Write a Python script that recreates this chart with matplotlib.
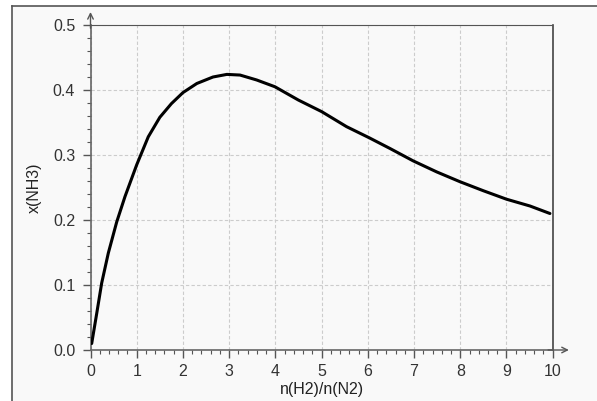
import matplotlib
matplotlib.use("Agg")
import matplotlib.pyplot as plt
from matplotlib.lines import Line2D
from matplotlib.ticker import MultipleLocator

plt.rcParams["font.family"] = ["Liberation Sans", "DejaVu Sans"]

# ratio n(H2)/n(N2) and equilibrium mole fraction of NH3
ratio = [0.026, 0.134, 0.242, 0.385, 0.567, 0.746, 1.0, 1.25, 1.5, 1.75,
         2.0, 2.3, 2.65, 2.95, 3.235, 3.596, 3.99, 4.496, 5.002, 5.54,
         6.03, 6.48, 6.98, 7.49, 7.99, 8.50, 9.00, 9.51, 9.94]
x_nh3 = [0.010, 0.056, 0.103, 0.149, 0.197, 0.236, 0.285, 0.328, 0.358,
         0.379, 0.396, 0.410, 0.420, 0.424, 0.423, 0.4154, 0.405, 0.3846,
         0.3667, 0.3436, 0.3265, 0.310, 0.291, 0.274, 0.259, 0.245, 0.232,
         0.2215, 0.210]

x_ticks = list(range(0, 11))
y_ticks = [0.0, 0.1, 0.2, 0.3, 0.4, 0.5]

fig = plt.figure(figsize=(5.97, 4.01), dpi=100)
fig.patch.set_facecolor("white")
# outer panel with frame on left and top
fig.add_artist(plt.Rectangle((12 / 597, 0), 1, 1 - 6 / 401,
                             transform=fig.transFigure,
                             facecolor="#f9f9f9", edgecolor="none", zorder=-10))
fig.add_artist(Line2D([12 / 597, 12 / 597], [0, 1 - 6 / 401],
                      transform=fig.transFigure, color="#555555", lw=1.2))
fig.add_artist(Line2D([12 / 597, 1], [1 - 6 / 401, 1 - 6 / 401],
                      transform=fig.transFigure, color="#555555", lw=1.2))

ax = fig.add_axes([90.5 / 597, 1 - 350 / 401, (552.7 - 90.5) / 597, 325 / 401])
ax.set_facecolor("#f9f9f9")
ax.plot(ratio, x_nh3, color="black", lw=2.2, solid_capstyle="round",
        solid_joinstyle="round", zorder=3)

ax.set_xlim(0, 10)
ax.set_ylim(0, 0.5)
ax.set_xticks(x_ticks)
ax.set_yticks(y_ticks)
ax.set_yticklabels([f"{v:.1f}" for v in y_ticks])
ax.xaxis.set_minor_locator(MultipleLocator(0.2))
ax.yaxis.set_minor_locator(MultipleLocator(0.02))
ax.tick_params(which="major", length=6, width=1, color="#555555",
               labelsize=11.5, labelcolor="#333333")
ax.tick_params(axis="y", which="major", pad=5)
ax.tick_params(axis="x", which="major", pad=4)
ax.tick_params(which="minor", length=3, width=0.8, color="#555555")

ax.grid(True, which="major", color="#cccccc", ls=(0, (3, 2)), lw=0.8)
for s in ["left", "bottom"]:
    ax.spines[s].set_color("#666666")
    ax.spines[s].set_linewidth(1.2)
ax.spines["top"].set_color("#555555")
ax.spines["top"].set_linestyle((0, (3, 1)))
ax.spines["right"].set_color("#444444")
ax.spines["right"].set_linewidth(1.2)

# axis arrows
ax.annotate("", xy=(0, 1.04), xytext=(0, 0.99), xycoords="axes fraction",
            arrowprops=dict(arrowstyle="->", color="#555555", lw=1.0,
                            shrinkA=0, shrinkB=0), annotation_clip=False)
ax.annotate("", xy=(1.035, 0), xytext=(0.99, 0), xycoords="axes fraction",
            arrowprops=dict(arrowstyle="->", color="#555555", lw=1.0,
                            shrinkA=0, shrinkB=0), annotation_clip=False)

ax.set_xlabel("n(H2)/n(N2)", fontsize=11.5, color="#222222", labelpad=2)
ax.set_ylabel("x(NH3)", fontsize=11.5, color="#222222", labelpad=8)

fig.savefig("out.png", dpi=100, facecolor=fig.get_facecolor())
